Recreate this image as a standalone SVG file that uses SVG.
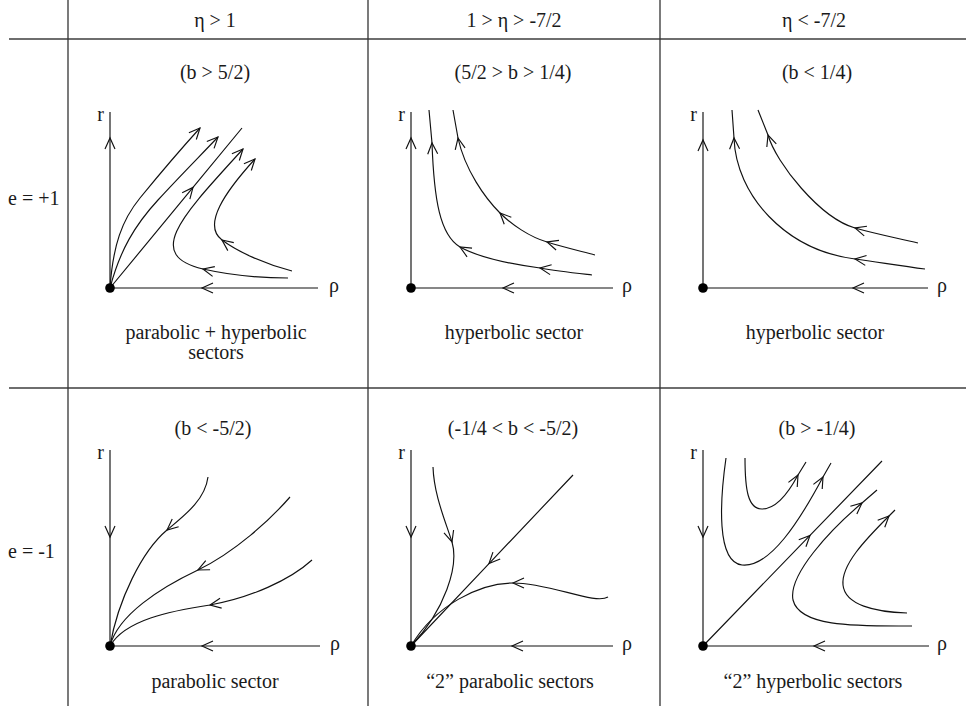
<svg xmlns="http://www.w3.org/2000/svg" width="966" height="713" viewBox="0 0 966 713">
<style>
text{font-family:"Liberation Serif","Times New Roman",serif;font-size:20px;fill:#1a1a1a}
.t{text-anchor:middle}
.r{text-anchor:end}
.gv{stroke:#333;stroke-width:1.3}
.gh{stroke:#6e6e6e;stroke-width:2.2}
.ax,.c{fill:none;stroke:#111;stroke-width:1.15}
.m{marker-mid:url(#a)}
.e{marker-end:url(#a)}
.ar{fill:none;stroke:none;marker-end:url(#a)}
</style>
<defs>
<marker id="a" viewBox="-12 -6 13 12" markerWidth="13" markerHeight="12" refX="0" refY="0" orient="auto" markerUnits="userSpaceOnUse" style="overflow:visible">
<path d="M-11,-5 L0,0 L-11,5" fill="none" stroke="#111" stroke-width="1.15"/>
</marker>
</defs>
<rect width="966" height="713" fill="#fff"/>
<g id="grid">
<line class="gh" x1="9" y1="39" x2="966" y2="39"/>
<line class="gh" x1="9" y1="388" x2="966" y2="388"/>
<line class="gv" x1="68" y1="0" x2="68" y2="706"/>
<line class="gv" x1="368" y1="0" x2="368" y2="706"/>
<line class="gv" x1="660" y1="0" x2="660" y2="706"/>
</g>
<g id="headers">
<text class="t" x="215" y="27">η &gt; 1</text>
<text class="t" x="514" y="27">1 &gt; η &gt; -7/2</text>
<text class="t" x="814" y="27">η &lt; -7/2</text>
<text x="8" y="205">e = +1</text>
<text x="8" y="558">e = -1</text>
</g>
<g id="p11">
<text class="t" x="215" y="79">(b &gt; 5/2)</text>
<text class="r" x="104" y="121">r</text>
<text x="329" y="292">ρ</text>
<path class="ax m" d="M110,288 L110,138 L110,112"/>
<path class="ax m" d="M318,288 L202,288 L110,288"/>
<path class="c m" d="M110,288 L193,187.4 L242,128"/>
<path class="c e" d="M110,288 C113,245 122,220 140,198 C158,176 180,150 200,128"/>
<path class="c e" d="M110,288 C120,250 135,225 158,200 C180,176 200,156 218,137"/>
<path class="c m e" d="M288,278 C255,278 225,274 203,269 C143,255 183,215 243,149"/>
<path class="c m e" d="M292,271 C265,264 238,252 222,240 C202,225 225,192 255,159"/>
<circle cx="110" cy="288" r="4.8" fill="#000"/>
<text class="t" x="216" y="339">parabolic + hyperbolic</text>
<text class="t" x="216" y="359">sectors</text>
</g>
<g id="p12">
<text class="t" x="513" y="79">(5/2 &gt; b &gt; 1/4)</text>
<text class="r" x="405" y="121">r</text>
<text x="622" y="292">ρ</text>
<path class="ax m" d="M411,288 L411,138 L411,112"/>
<path class="ax m" d="M613,288 L503,288 L411,288"/>
<path class="c m" d="M592,275 C575,273 557,271 540,268 C510,264 480,258 460,247 C440,235 434,200 432,143 L429,110"/>
<path class="c m" d="M595,255 C580,251 563,247 547,242 C530,237 512,225 500,213 C485,198 465,170 458,138 L453,110"/>
<circle cx="411" cy="288" r="4.8" fill="#000"/>
<text class="t" x="514" y="339">hyperbolic sector</text>
</g>
<g id="p13">
<text class="t" x="817" y="79">(b &lt; 1/4)</text>
<text class="r" x="697" y="121">r</text>
<text x="937" y="292">ρ</text>
<path class="ax m" d="M703,288 L703,140 L703,112"/>
<path class="ax m" d="M928,288 L853,288 L703,288"/>
<path class="c m" d="M925,269 C900,266 878,262 855,259 C785,250 736,195 734,138 L732,110"/>
<path class="c m" d="M918,243 C897,238 876,234 855,228 C820,218 776,163 768,135 L758,110"/>
<circle cx="703" cy="288" r="4.8" fill="#000"/>
<text class="t" x="815" y="339">hyperbolic sector</text>
</g>
<g id="p21">
<text class="t" x="213" y="435">(b &lt; -5/2)</text>
<text class="r" x="104" y="459">r</text>
<text x="330" y="650">ρ</text>
<path class="ax m" d="M110,450 L110,537 L110,646"/>
<path class="ax m" d="M320,646 L202,646 L110,646"/>
<path class="c m" d="M208,477 C205,500 185,515 167,530 C142,551 118,600 110,646"/>
<path class="c m" d="M290,497 C270,520 235,552 198,570 C160,588 118,615 110,646"/>
<path class="c m" d="M312,560 C290,580 250,598 210,605 C170,611 125,620 110,646"/>
<circle cx="110" cy="646" r="4.8" fill="#000"/>
<text class="t" x="215" y="688">parabolic sector</text>
</g>
<g id="p22">
<text class="t" x="513" y="435">(-1/4 &lt; b &lt; -5/2)</text>
<text class="r" x="405" y="459">r</text>
<text x="622" y="650">ρ</text>
<path class="ax m" d="M411,450 L411,537 L411,646"/>
<path class="ax m" d="M613,646 L512,646 L411,646"/>
<path class="c m" d="M573,475 L489,563.6 L411,646"/>
<path class="c m" d="M433,467 C434,495 445,520 452,542 C459,566 445,610 411,646"/>
<path class="c m" d="M608,597 C595,605 550,583 513,583 C480,583 435,605 411,646"/>
<circle cx="411" cy="646" r="4.8" fill="#000"/>
<text class="t" x="510" y="688">“2” parabolic sectors</text>
</g>
<g id="p23">
<text class="t" x="817" y="435">(b &gt; -1/4)</text>
<text class="r" x="697" y="459">r</text>
<text x="937" y="650">ρ</text>
<path class="ax m" d="M703,450 L703,537 L703,646"/>
<path class="ax m" d="M929,646 L814,646 L703,646"/>
<path class="c m" d="M703,646 L810,535.4 L882,461"/>
<path class="c" d="M745,458 C745,490 748,509 762,509 C778,509 790,490 798,475 L806,462"/>
<path class="ar" d="M796.4,478 L798,475"/>
<path class="c" d="M726,458 C720,500 716,562 742,565 C770,568 800,520 823,477 L831,463"/>
<path class="ar" d="M821.5,479.8 L823,477"/>
<path class="c" d="M912,626 C860,626 800,628 793,600 C788,575 830,530 862,503 L877,490"/>
<path class="ar" d="M858,506.4 L862,503"/>
<path class="c" d="M907,613 C875,612 845,605 843,585 C841,565 865,540 889,516 L895,510"/>
<path class="ar" d="M886,519 L889,516"/>
<circle cx="703" cy="646" r="4.8" fill="#000"/>
<text class="t" x="813" y="688">“2” hyperbolic sectors</text>
</g>
</svg>
